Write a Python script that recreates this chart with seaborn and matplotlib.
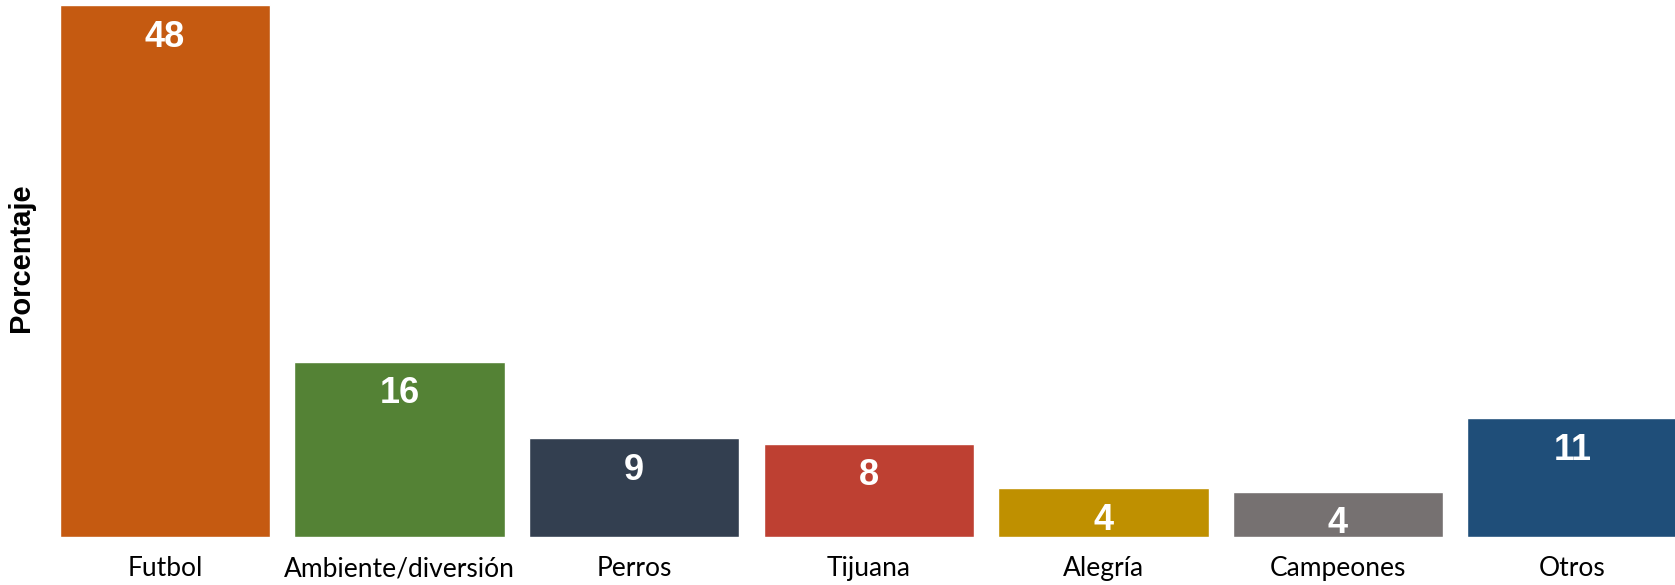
import matplotlib
matplotlib.use("Agg")
import matplotlib.pyplot as plt
import seaborn as sns
import pandas as pd

# Respuestas agrupadas por tema (porcentaje)
categorias = ["Futbol", "Ambiente/diversión", "Perros", "Tijuana", "Alegría", "Campeones", "Otros"]
porcentajes = [48.0, 15.8, 8.9, 8.4, 4.4, 4.1, 10.7]
colores = ["#C55A11", "#548235", "#333F50", "#BE4032", "#BF9000", "#767171", "#1F4E79"]

df = pd.DataFrame({"categoria": categorias, "porcentaje": porcentajes})

sns.set_theme(style="white")
plt.rcParams["font.family"] = ["Liberation Sans", "DejaVu Sans"]

W, H = 1675, 585
fig = plt.figure(figsize=(W / 100, H / 100), dpi=100)
ax = fig.add_axes([0, 1 - 537 / H, 1, (537 - 5.3) / H])

sns.barplot(data=df, x="categoria", y="porcentaje", hue="categoria",
            palette=colores, legend=False, width=0.897, saturation=1,
            ax=ax)

pitch = 234.6
x0 = 165.0
ax.set_xlim(-x0 / pitch, (W - x0) / pitch)
ax.set_ylim(0, 48)

for i, v in enumerate(porcentajes):
    ax.annotate(f"{v:.0f}", xy=(i, v), xytext=(0, -23), textcoords="offset points",
                ha="center", va="center", color="white", fontsize=26,
                fontweight="bold", family=["Liberation Sans", "DejaVu Sans"])

for s in ax.spines.values():
    s.set_visible(False)
ax.set_yticks([])
ax.set_xlabel("")
ax.set_ylabel("Porcentaje", fontsize=21, fontweight="bold", color="black",
              family=["Liberation Sans", "DejaVu Sans"], va="center")
ax.yaxis.set_label_coords(21 / W, (537 - 258) / (537 - 5.3))
ax.tick_params(axis="x", length=0, pad=14)
for lab in ax.get_xticklabels():
    lab.set_family(["Lato", "DejaVu Sans"])
    lab.set_fontsize(19)
    lab.set_color("black")

fig.savefig("out.png", dpi=100, facecolor="white")
